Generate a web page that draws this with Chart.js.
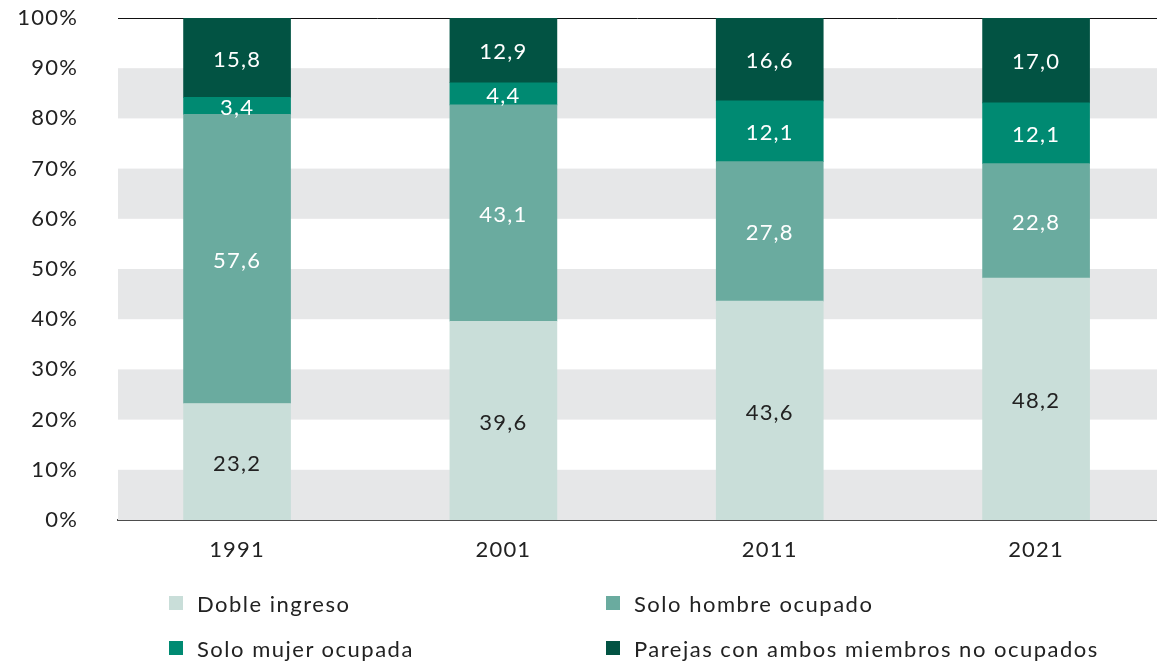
<!DOCTYPE html>
<html>
<head>
<meta charset="utf-8">
<script src="https://cdn.jsdelivr.net/npm/chart.js@4/dist/chart.umd.min.js"></script>
<style>
  html, body { margin: 0; padding: 0; background: #fff; }
  #wrap { position: relative; width: 1157px; height: 662px; }
  #legend { position: absolute; left: 0; top: 0; width: 1157px; height: 662px; pointer-events: none;
    font-family: Lato, sans-serif; font-size: 22px; color: #222; letter-spacing: 1.5px; }
  .item { position: absolute; display: flex; align-items: center; white-space: nowrap; }
  .box { width: 14px; height: 14px; margin-right: 14px; }
</style>
</head>
<body>
<div id="wrap">
  <canvas id="c" width="1157" height="662"></canvas>
  <div id="legend"></div>
</div>
<script>
const categories = ['1991', '2001', '2011', '2021'];
const dobleIngreso = [23.2, 39.6, 43.6, 48.2];
const soloHombre = [57.6, 43.1, 27.8, 22.8];
const soloMujer = [3.4, 4.4, 12.1, 12.1];
const ningunoOcupado = [15.8, 12.9, 16.6, 17.0];
const seriesLabels = ['Doble ingreso', 'Solo hombre ocupado', 'Solo mujer ocupada', 'Parejas con ambos miembros no ocupados'];
const seriesColors = ['#c9ded9', '#6aab9f', '#008a72', '#025343'];
const labelColors = ['#222222', '#ffffff', '#ffffff', '#ffffff'];
const yTickValues = [0, 10, 20, 30, 40, 50, 60, 70, 80, 90, 100];

const seriesValues = [dobleIngreso, soloHombre, soloMujer, ningunoOcupado];

Chart.defaults.font.family = 'Lato, sans-serif';
Chart.defaults.font.size = 22;
Chart.defaults.color = '#222';

const PLOT_TOP = 18, PLOT_BOTTOM = 520, PLOT_LEFT = 118;

const bgPlugin = {
  id: 'bg',
  beforeDraw(chart) {
    chart.ctx.letterSpacing = '1.2px';
  },
  beforeDatasetsDraw(chart) {
    const { ctx, chartArea, scales } = chart;
    const y = scales.y;
    ctx.save();
    ctx.fillStyle = '#e6e7e8';
    for (let v = 0; v < 100; v += 20) {
      const top = y.getPixelForValue(v + 10);
      const bot = y.getPixelForValue(v);
      ctx.fillRect(chartArea.left, top, chartArea.right - chartArea.left, bot - top);
    }
    ctx.strokeStyle = '#111';
    ctx.lineWidth = 1;
    const yt = Math.round(y.getPixelForValue(100)) + 0.5;
    ctx.beginPath();
    ctx.moveTo(chartArea.left, yt);
    ctx.lineTo(chartArea.right, yt);
    ctx.stroke();
    ctx.restore();
  }
};

const labelPlugin = {
  id: 'vals',
  afterDatasetsDraw(chart) {
    const { ctx } = chart;
    ctx.save();
    ctx.font = '22px Lato, sans-serif';
    ctx.letterSpacing = '1.2px';
    ctx.textAlign = 'center';
    ctx.textBaseline = 'middle';
    chart.data.datasets.forEach((ds, di) => {
      const meta = chart.getDatasetMeta(di);
      meta.data.forEach((el, i) => {
        const p = el.getProps(['x', 'y', 'base'], true);
        const v = seriesValues[di][i];
        ctx.fillStyle = labelColors[di];
        ctx.fillText(v.toFixed(1).replace('.', ','), p.x, (p.y + p.base) / 2 + 2);
      });
    });
    ctx.restore();
  }
};

const chart = new Chart(document.getElementById('c'), {
  type: 'bar',
  data: {
    datasets: seriesLabels.map((lab, di) => ({
      label: lab,
      data: categories.map((c, i) => ({ x: Number(c), y: seriesValues[di][i] })),
      backgroundColor: seriesColors[di],
      borderWidth: 0,
      barThickness: 107
    }))
  },
  options: {
    responsive: false,
    animation: false,
    layout: { padding: { top: PLOT_TOP, left: 0, right: 0, bottom: 0 } },
    plugins: { legend: { display: false }, tooltip: { enabled: false } },
    scales: {
      x: {
        type: 'linear',
        offset: false,
        stacked: true,
        min: 1986.53,
        max: 2025.54,
        afterBuildTicks: (scale) => { scale.ticks = categories.map(c => ({ value: Number(c) })); },
        afterFit: (scale) => { scale.height = 662 - PLOT_BOTTOM; },
        grid: { display: false },
        border: { display: true, color: '#4d4d4d', width: 2 },
        ticks: { autoSkip: false, maxRotation: 0, padding: 9, color: '#222', callback: (v) => String(v) }
      },
      y: {
        stacked: true,
        min: 0,
        max: 100,
        afterBuildTicks: (scale) => { scale.ticks = yTickValues.map(v => ({ value: v })); },
        afterFit: (scale) => { scale.width = PLOT_LEFT; scale.paddingTop = 0; scale.paddingBottom = 0; },
        grid: { display: false },
        border: { display: false },
        ticks: { padding: 32, color: '#222', callback: (v) => v + '%' }
      }
    }
  },
  plugins: [bgPlugin, labelPlugin]
});

// correct top padding if layout reserved extra space
const extra = chart.chartArea.top - PLOT_TOP;
if (Math.abs(extra) > 0.5) {
  chart.options.layout.padding.top = PLOT_TOP - extra;
  chart.update();
}

// HTML legend (two columns)
const legendPos = [[169, 603], [606, 603], [169, 648], [606, 648]];
const legend = document.getElementById('legend');
seriesLabels.forEach((lab, i) => {
  const it = document.createElement('div');
  it.className = 'item';
  it.style.left = legendPos[i][0] + 'px';
  it.style.top = (legendPos[i][1] - 14) + 'px';
  it.style.height = '28px';
  const b = document.createElement('span');
  b.className = 'box';
  b.style.background = seriesColors[i];
  const t = document.createElement('span');
  t.textContent = lab;
  it.appendChild(b);
  it.appendChild(t);
  legend.appendChild(it);
});
</script>
</body>
</html>
